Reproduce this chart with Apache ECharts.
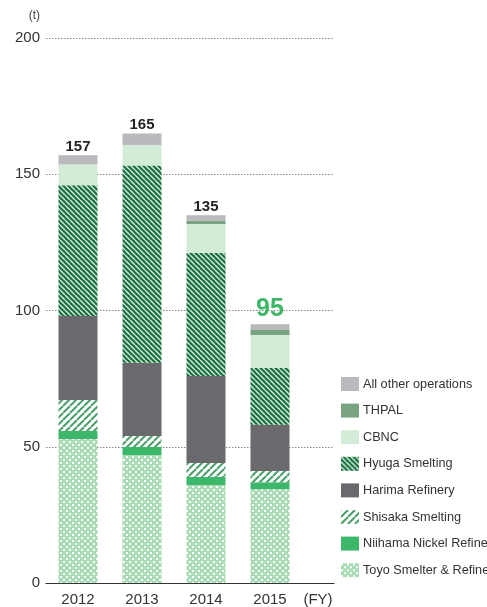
<!DOCTYPE html>
<html>
<head>
<meta charset="utf-8">
<style>
  html, body { margin: 0; padding: 0; background: #ffffff; }
  #chart { width: 487px; height: 607px; }
</style>
<script src="https://cdn.jsdelivr.net/npm/echarts@6/dist/echarts.min.js"></script>
</head>
<body>
<div id="chart"></div>
<script>
// Fiscal years and nickel output by operation (t)
const years = ['2012', '2013', '2014', '2015'];
const toyo     = [52.8, 47.0, 36.0, 34.4];
const niihama  = [3.0, 2.9, 2.9, 2.6];
const shisaka  = [11.4, 4.0, 5.1, 4.1];
const harima   = [30.8, 26.9, 32.0, 17.0];
const hyuga    = [48.0, 72.4, 45.2, 20.8];
const cbnc     = [7.6, 7.5, 10.5, 12.1];
const thpal    = [0, 0, 1.3, 1.8];
const others   = [3.4, 4.3, 2.0, 2.2];
const totals   = [157, 165, 135, 95];
const yTicks   = [0, 50, 100, 150, 200];

const FONT = '"Liberation Sans", Arial, sans-serif';

// Small canvas tiles used as repeating fills
function tile(size, draw) {
  const c = document.createElement('canvas');
  c.width = size; c.height = size;
  draw(c.getContext('2d'), size);
  return { image: c, repeat: 'repeat' };
}
function stripes(bg, fg, size, width, dir) {
  return tile(size, (ctx, s) => {
    ctx.fillStyle = bg; ctx.fillRect(0, 0, s, s);
    ctx.strokeStyle = fg; ctx.lineWidth = width;
    for (let k = -1; k <= 1; k++) {
      ctx.beginPath();
      if (dir === 'down') { ctx.moveTo(k * s, 0); ctx.lineTo(k * s + s, s); }
      else { ctx.moveTo(k * s, s); ctx.lineTo(k * s + s, 0); }
      ctx.stroke();
    }
  });
}
const hyugaFill = stripes('#17703e', '#d9ecdf', 5, 1.4, 'down');
const shisakaFill = stripes('#ffffff', '#4b9f69', 7, 2.0, 'up');
const toyoFill = tile(6, (ctx, s) => {
  ctx.fillStyle = '#a9dcb5'; ctx.fillRect(0, 0, s, s);
  ctx.fillStyle = '#ffffff';
  ctx.fillRect(0, 0, 2, 2);
  ctx.fillRect(3, 3, 2, 2);
});

// Bars sit on a value x axis so the axis line can run past the last year.
// Each datum is [value, position] so the stack is built on the value dimension.
const xPos = years.map((_, i) => i + 0.5);
const xLabels = {};
years.forEach((y, i) => { xLabels[xPos[i]] = y; });
xLabels[4.25] = '(FY)';

function series(name, values, color) {
  return {
    name: name,
    type: 'bar',
    stack: 'total',
    barWidth: 39,
    encode: { x: 1, y: 0 },
    itemStyle: { color: color },
    emphasis: { disabled: true },
    data: values.map((v, i) => [v, xPos[i]])
  };
}

const otherSeries = series('All other operations', others, '#b9b9be');
otherSeries.data = others.map((v, i) => {
  const last = i === years.length - 1;
  return {
    value: [v, xPos[i]],
    label: {
      show: true,
      position: 'top',
      distance: last ? 3 : 1,
      formatter: String(totals[i]),
      fontFamily: FONT,
      fontWeight: 'bold',
      fontSize: last ? 25 : 15,
      color: last ? '#3db868' : '#222222'
    }
  };
});

const chart = echarts.init(document.getElementById('chart'), null, { renderer: 'canvas' });
chart.setOption({
  animation: false,
  backgroundColor: '#ffffff',
  textStyle: { fontFamily: FONT },
  grid: { left: 46, right: 153, top: 38, bottom: 24, containLabel: false },
  legend: {
    orient: 'vertical',
    left: 341,
    top: 377,
    padding: 0,
    icon: 'rect',
    itemWidth: 18,
    itemHeight: 14,
    itemGap: 12.6,
    selectedMode: false,
    textStyle: { fontFamily: FONT, fontSize: 12.7, color: '#333333', padding: [0, 0, 0, -1] },
    data: ['All other operations', 'THPAL', 'CBNC', 'Hyuga Smelting', 'Harima Refinery',
           'Shisaka Smelting', 'Niihama Nickel Refinery', 'Toyo Smelter & Refinery']
  },
  xAxis: {
    type: 'value',
    min: 0,
    max: 4.5,
    interval: 0.25,
    splitLine: { show: false },
    axisTick: { show: false },
    axisLine: { show: true, lineStyle: { color: '#333333', width: 1.2 } },
    axisLabel: {
      margin: 9,
      fontSize: 15,
      color: '#333333',
      fontFamily: FONT,
      showMinLabel: true,
      showMaxLabel: true,
      formatter: v => xLabels[v] || ''
    }
  },
  yAxis: {
    type: 'value',
    min: yTicks[0],
    max: yTicks[yTicks.length - 1],
    interval: yTicks[1] - yTicks[0],
    name: '(t)',
    nameLocation: 'end',
    nameGap: 16,
    nameTextStyle: { fontFamily: FONT, fontSize: 12, color: '#444444', align: 'right', padding: [0, 6, 0, 0] },
    axisLine: { show: false },
    axisTick: { show: false },
    axisLabel: { margin: 6, fontSize: 15, color: '#333333', fontFamily: FONT },
    splitLine: { show: true, lineStyle: { color: '#8a8a8a', type: [1.5, 1.5], width: 1 } }
  },
  series: [
    series('Toyo Smelter & Refinery', toyo, toyoFill),
    series('Niihama Nickel Refinery', niihama, '#3db86a'),
    series('Shisaka Smelting', shisaka, shisakaFill),
    series('Harima Refinery', harima, '#6a6a6e'),
    series('Hyuga Smelting', hyuga, hyugaFill),
    series('CBNC', cbnc, '#d3ecd7'),
    series('THPAL', thpal, '#78a482'),
    otherSeries
  ]
});
</script>
</body>
</html>
